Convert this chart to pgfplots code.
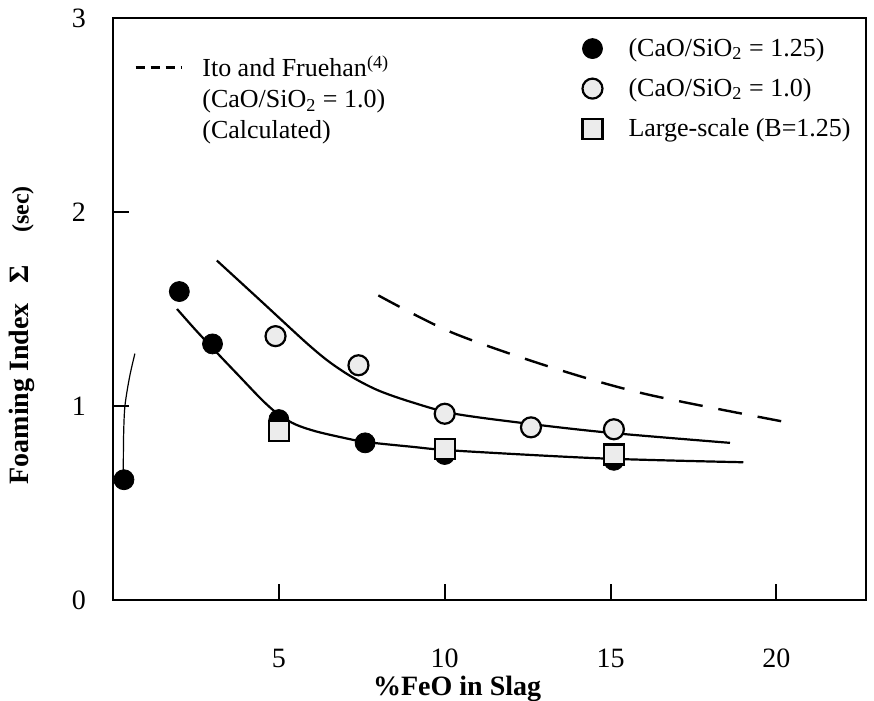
\documentclass[border=0pt]{standalone}
\usepackage{pgfplots}
\pgfplotsset{compat=1.18}
\usepackage{fontspec}
\setmainfont{Liberation Serif}

\pgfplotsset{
  base/.style={
    scale only axis, width=376.5pt, height=291pt,
    xmin=0, xmax=22.7, ymin=0, ymax=3,
    at={(0,0)}, anchor=south west,
  },
}

\begin{document}
\begin{tikzpicture}
\path[use as bounding box] (-56.5pt,-50.5pt) rectangle (380.5pt,300pt);

\begin{axis}[
  base,
  axis line style={line width=1pt},
  tick style={line width=1pt, black},
  tick align=inside, tick pos=left,
  major tick length=8pt,
  xtick={5,10,15,20}, ytick={0,1,2,3},
  /pgf/number format/assume math mode=true,
  tick label style={font=\fontsize{14}{16}\selectfont},
  xticklabel shift=21pt, yticklabel shift=10pt,
  xlabel={\%FeO in Slag},
  xlabel style={font=\bfseries\fontsize{14}{16}\selectfont, at={(axis description cs:0.457,-0.153)}, anchor=center},
  ylabel={Foaming Index\hspace{10pt}Σ\hspace{16pt}{\fontsize{12}{14}\selectfont(sec)}},
  ylabel style={font=\bfseries\fontsize{14}{16}\selectfont, at={(axis description cs:-0.121,0.455)}, anchor=center},
  legend style={draw=none, fill=none, font=\fontsize{13}{15}\selectfont,
    at={(axis description cs:0.615,0.98)}, anchor=north west,
    row sep=5.5pt, column sep=11pt},
  legend cell align=left,
]
% fitted curves
\addplot[black, line width=1.1pt, smooth, forget plot] coordinates
 {(1.93,1.50)(2.5,1.39)(3.13,1.275)(3.8,1.155)(4.5,1.03)(5.0,0.955)(5.5,0.905)(6.1,0.87)(6.9,0.838)(7.6,0.815)(9.0,0.79)(10.3,0.77)(14.7,0.73)(19.0,0.71)};
\addplot[black, line width=1.1pt, smooth, forget plot] coordinates
 {(3.13,1.75)(4.5,1.535)(5.8,1.33)(6.5,1.23)(7.2,1.15)(8.0,1.08)(9.0,1.02)(10.3,0.96)(12.7,0.905)(15.1,0.86)(18.6,0.81)};
\addplot[black, line width=0.6pt, smooth, forget plot] coordinates
 {(0.31,0.66)(0.32,0.85)(0.36,1.0)(0.5,1.15)(0.66,1.27)};
% data
\addplot[only marks, mark=*, mark size=5pt, mark options={fill=black, draw=black}] coordinates
 {(0.33,0.62)(2.0,1.59)(3.0,1.32)(5.0,0.93)(7.6,0.81)(10.0,0.75)(15.1,0.72)};
\addlegendentry{(CaO/SiO\textsubscript{2} = 1.25)}
\addplot[only marks, mark=*, mark size=5pt, mark options={fill=gray!15, draw=black, line width=1.1pt}] coordinates
 {(4.9,1.36)(7.4,1.21)(10.0,0.96)(12.6,0.89)(15.1,0.88)};
\addlegendentry{(CaO/SiO\textsubscript{2} = 1.0)}
\addplot[only marks, mark=square*, mark size=5pt, mark options={fill=gray!15, draw=black, line width=1.1pt}] coordinates
 {(5.0,0.87)(10.0,0.78)(15.1,0.75)};
\addlegendentry{Large-scale (B=1.25)}
\end{axis}

\begin{axis}[
  base, hide axis,
  legend style={draw=none, fill=none, font=\fontsize{13}{15}\selectfont,
    at={(axis description cs:0.02,0.95)}, anchor=north west,
    row sep=1pt, column sep=8pt},
  legend cell align=left,
]
\addplot[black, line width=1.2pt, dash pattern=on 12pt off 8pt, smooth,
  legend image code/.code={\draw[black, line width=1.2pt, dash pattern=on 4.5pt off 3pt] (0cm,0cm) -- (0.8cm,0cm);}]
 coordinates {(8.0,1.57)(10.2,1.38)(13.2,1.20)(16.1,1.06)(20.5,0.91)};
\addlegendentry{Ito and Fruehan\textsuperscript{(4)}}
\addlegendimage{empty legend}
\addlegendentry{(CaO/SiO\textsubscript{2} = 1.0)}
\addlegendimage{empty legend}
\addlegendentry{(Calculated)}
\end{axis}
\end{tikzpicture}
\end{document}
